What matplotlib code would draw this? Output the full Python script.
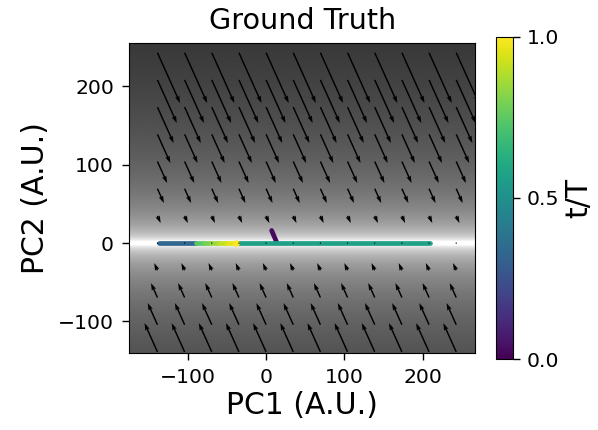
import numpy as np
import matplotlib.pyplot as plt
from matplotlib.collections import LineCollection
from matplotlib import cm, colors

# axis window (A.U.)
x_range = [-175, 267]
y_range = [-140, 255]

# flow field grid (same spacing on both PCs)
grid_lo, grid_hi, grid_n = -139, 243, 12
# linear flow: dPC1 = flow_xy * PC2, dPC2 = flow_yy * PC2
flow_xy = 0.45
flow_yy = -1.0

# trajectory pieces (PC1/PC2 start and end, t/T of the piece)
traj_x0 = [7, -137, -39, -90, -80, -70, -60, -50]
traj_x1 = [13, -90, 210, -80, -70, -60, -50, -39]
traj_y0 = [16, 0, 0, 0, 0, 0, 0, 0]
traj_y1 = [2, 0, 0, 0, 0, 0, 0, 0]
traj_t = [0.02, 0.33, 0.57, 0.74, 0.79, 0.85, 0.91, 0.96]
# last point of the run
end_x, end_y, end_t = -39, 0, 1.0

fig = plt.figure(figsize=(5.98, 4.30), dpi=100)
ax = fig.add_axes([0.2162, 0.1798, 0.5781, 0.7195])
cax = fig.add_axes([0.8294, 0.1651, 0.0279, 0.7495])

# background: log speed of the flow
yy = np.linspace(y_range[0], y_range[1], 800)
speed = np.abs(yy) * np.hypot(flow_xy, flow_yy)
bg = np.log10(speed + 1.0)[:, None] * np.ones((1, 4))
ax.imshow(bg, extent=[x_range[0], x_range[1], y_range[0], y_range[1]],
          origin='lower', cmap='gray_r', vmin=0.55, vmax=2.99,
          aspect='auto', interpolation='bilinear')

norm = colors.Normalize(0, 1)
segs = [[(a, b), (c, d)] for a, c, b, d in zip(traj_x0, traj_x1, traj_y0, traj_y1)]
lc = LineCollection(segs, cmap='viridis', norm=norm, linewidths=3.4,
                    capstyle='round', zorder=3)
lc.set_array(np.array(traj_t))
ax.add_collection(lc)
ax.scatter([end_x], [end_y], c=[end_t], cmap='viridis', norm=norm,
           s=22, zorder=4, linewidths=0)

g = np.linspace(grid_lo, grid_hi, grid_n)
X, Y = np.meshgrid(g, g)
U = flow_xy * Y
V = flow_yy * Y
ax.quiver(X, Y, U, V, angles='xy', scale_units='xy', scale=3.78,
          width=0.0042, headwidth=3.2, headlength=5, color='black', zorder=5)

ax.set_xlim(x_range)
ax.set_ylim(y_range)
ax.set_xticks([-100, 0, 100, 200])
ax.set_yticks([-100, 0, 100, 200])
ax.tick_params(labelsize=14.7, length=5, width=1, pad=6)
ax.set_xlabel('PC1 (A.U.)', fontsize=21.5, labelpad=3)
ax.set_ylabel('PC2 (A.U.)', fontsize=21.5, labelpad=6)
ax.set_title('Ground Truth', fontsize=20.6, pad=10)

sm = cm.ScalarMappable(norm=norm, cmap='viridis')
cb = fig.colorbar(sm, cax=cax, ticks=[0, 0.5, 1])
cb.ax.set_yticklabels(['0.0', '0.5', '1.0'])
cb.ax.tick_params(labelsize=14.7, length=5, width=1, pad=5)
cb.set_label('t/T', fontsize=21.5)

fig.savefig('out.png', dpi=100)
